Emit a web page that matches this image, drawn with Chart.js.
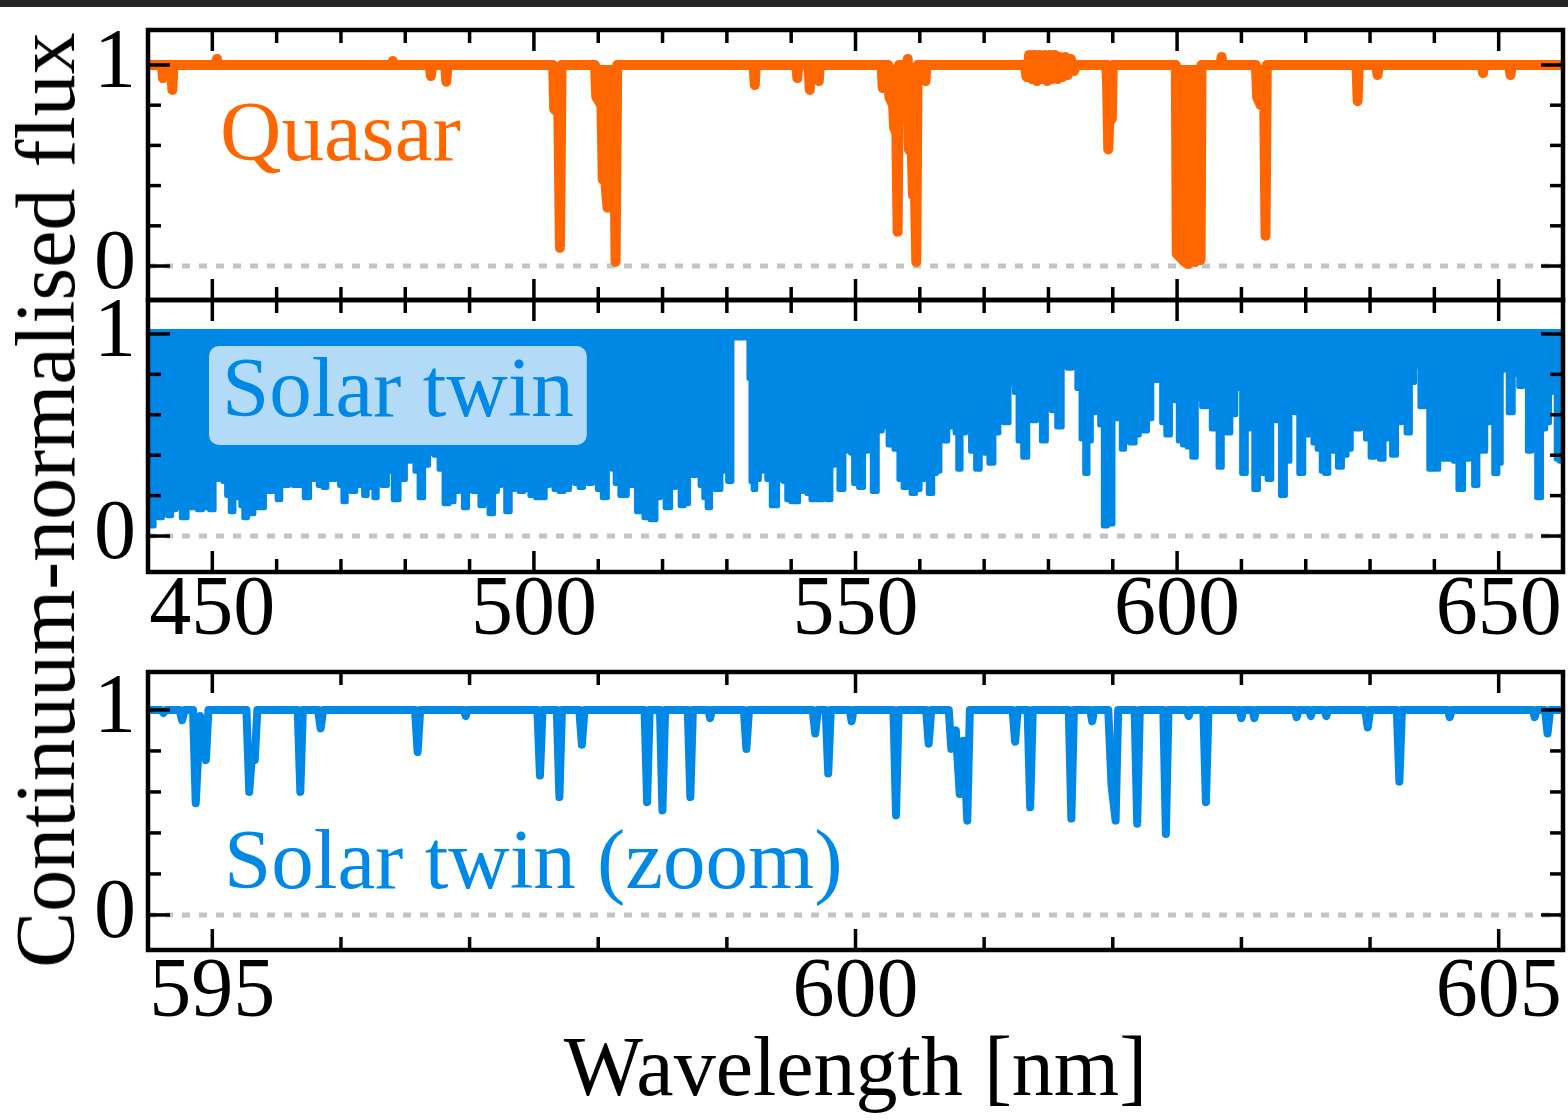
<!DOCTYPE html>
<html>
<head>
<meta charset="utf-8">
<script src="https://cdn.jsdelivr.net/npm/chart.js@4.4.1/dist/chart.umd.min.js"></script>
<style>
  html, body { margin: 0; background: #fff; }
  #page { position: relative; width: 1568px; height: 1120px; overflow: hidden; background: #fff; }
  #topbar { position: absolute; left: 0; top: 0; width: 1568px; height: 7px; background: #262626; }
  canvas { position: absolute; left: 0; }
  #ylabel {
    position: absolute; left: 46px; top: 500px;
    transform: translate(-50%, -50%) rotate(-90deg);
    font: 84px "Liberation Serif", "Times New Roman", serif;
    line-height: 1; white-space: nowrap; color: #000;
  }
</style>
</head>
<body>
<div id="page">
  <div id="topbar"></div>
  <canvas id="quasar" width="1568" height="304" style="top:0px"></canvas>
  <canvas id="twin" width="1568" height="366" style="top:296px"></canvas>
  <canvas id="zoom" width="1568" height="458" style="top:662px"></canvas>
  <div id="ylabel">Continuum-normalised flux</div>
</div>
<script>
// ---- data (wavelength in nm, continuum-normalised flux) ----

// quasar spectrum: continuum plus the absorption features
const quasarWave = [
  440.2,
  442.15, 442.33, 442.5,
  443.6, 443.79, 443.95,
  450.5, 450.72, 450.9,
  477.9, 478.08, 478.25,
  483.8, 483.98, 484.15,
  486.2, 486.38, 486.55,
  503.0, 503.15, 503.8, 504.05, 504.3,
  509.5, 509.7, 510.5, 510.7, 511.1, 511.45, 511.7, 512.45, 512.7, 512.95,
  534.15, 534.34, 534.5,
  540.8, 540.96, 541.1,
  542.7, 542.89, 543.05,
  544.1, 544.29, 544.45,
  554.05, 554.24, 554.4,
  555.1, 555.25, 555.85, 556.0, 556.35, 556.55, 556.75,
  558.0, 558.12, 558.3, 558.75, 558.95, 559.25, 559.45, 559.65,
  560.7, 560.87, 561.05,
  576.3, 576.6, 577.0, 577.4, 577.8, 578.2, 578.6, 579.0, 579.4, 579.8, 580.2,
  580.6, 581.0, 581.4, 581.8, 582.2, 582.6, 583.0, 583.5, 584.0, 584.3,
  588.95, 589.1, 589.3, 589.45, 589.85, 590.0,
  599.8, 599.95, 600.6, 601.2, 601.7, 602.3, 602.8, 603.3, 603.65, 603.8,
  606.75, 606.92, 607.1,
  612.25, 612.45, 613.0, 613.55, 613.75, 613.95,
  627.9, 628.07, 628.25,
  631.0, 631.17, 631.35,
  647.4, 647.57, 647.75,
  651.65, 651.84, 652.0,
  659.8
];
const quasarFlux = [
  1.0,
  1.0, 0.935, 1.0,
  1.0, 0.876, 1.0,
  1.0, 1.03, 1.0,
  1.0, 1.02, 1.0,
  1.0, 0.945, 1.0,
  1.0, 0.917, 1.0,
  1.0, 0.78, 0.76, 0.09, 1.0,
  1.0, 0.84, 0.80, 0.43, 0.42, 0.29, 0.82, 0.84, 0.02, 1.0,
  1.0, 0.90, 1.0,
  1.0, 0.935, 1.0,
  1.0, 0.876, 1.0,
  1.0, 0.92, 1.0,
  1.0, 0.885, 1.0,
  1.0, 0.84, 0.80, 0.69, 0.66, 0.17, 1.0,
  1.0, 1.03, 0.58, 0.56, 0.35, 0.37, 0.02, 1.0,
  1.0, 0.92, 1.0,
  1.0, 0.94, 1.05, 0.93, 1.05, 0.92, 1.05, 0.93, 1.05, 0.92, 1.05,
  0.93, 1.05, 0.93, 1.04, 0.94, 1.04, 0.95, 1.03, 0.97, 1.0,
  1.0, 0.93, 0.58, 0.72, 0.73, 1.0,
  1.0, 0.06, 0.04, 0.02, 0.01, 0.05, 0.02, 0.04, 0.03, 1.0,
  1.0, 1.04, 1.0,
  1.0, 0.84, 0.80, 0.79, 0.15, 1.0,
  1.0, 0.82, 1.0,
  1.0, 0.95, 1.0,
  1.0, 0.96, 1.0,
  1.0, 0.95, 1.0,
  1.0
];

// solar twin: lower edge of the dense line forest (the band above it is solid)
const twinWave = [
  440.15, 440.57, 441.34, 441.86, 442.64, 443.42, 443.93, 444.71, 445.64, 446.52,
  447.30, 448.08, 448.86, 449.22, 449.89, 450.67, 451.34, 451.96, 452.48, 453.10,
  453.62, 454.30, 454.55, 455.23, 455.70, 456.21, 456.73, 457.40, 457.92, 458.29,
  459.11, 459.74, 460.41, 460.88, 461.55, 462.22, 462.95, 463.78, 464.81, 465.44,
  466.06, 466.89, 467.51, 468.13, 468.80, 469.48, 470.10, 470.51, 471.13, 471.91,
  472.69, 473.21, 473.83, 474.35, 474.86, 475.38, 475.90, 476.84, 477.61, 478.65,
  479.43, 480.62, 481.24, 481.76, 482.54, 483.16, 484.09, 484.87, 485.64, 486.42,
  487.20, 487.98, 488.75, 489.32, 490.05, 490.83, 491.34, 491.86, 492.64, 493.42,
  494.04, 494.61, 495.23, 496.01, 496.63, 497.30, 498.08, 498.86, 499.89, 500.67,
  501.45, 502.07, 502.74, 503.52, 504.30, 505.07, 506.01, 506.63, 507.41, 508.03,
  508.70, 509.48, 510.25, 511.03, 511.81, 512.43, 512.84, 513.88, 515.17, 516.72,
  517.50, 518.64, 519.32, 519.94, 520.87, 521.65, 522.42, 523.05, 523.72, 524.34,
  525.01, 525.53, 526.15, 526.67, 527.19, 527.76, 528.49, 529.68, 530.56, 531.02,
  533.30, 533.56, 533.93, 534.24, 534.75, 535.38, 535.89, 536.52, 537.29, 538.49,
  539.00, 539.62, 540.30, 540.82, 541.49, 542.11, 542.73, 543.41, 544.55, 545.22,
  545.84, 546.52, 547.03, 547.81, 548.59, 549.11, 549.37, 550.04, 550.92, 551.60,
  552.22, 553.00, 553.77, 554.55, 555.59, 556.36, 557.14, 557.66, 558.33, 558.95,
  559.73, 560.35, 560.92, 561.70, 562.32, 562.84, 563.41, 564.03, 564.65, 565.27,
  565.69, 566.10, 566.73, 567.50, 568.28, 569.06, 569.73, 570.35, 571.13, 571.91,
  572.68, 573.36, 574.39, 575.02, 575.53, 576.47, 577.09, 577.71, 578.54, 579.26,
  580.09, 580.82, 581.75, 582.53, 583.30, 584.08, 584.75, 585.38, 585.89, 586.41,
  586.93, 587.70, 588.22, 588.84, 589.52, 590.55, 591.07, 591.59, 592.11, 593.14,
  593.82, 594.44, 595.06, 595.73, 596.41, 597.29, 597.91, 598.58, 599.36, 599.88,
  600.50, 601.17, 601.95, 602.62, 603.35, 604.28, 605.06, 605.58, 606.09, 606.66,
  607.39, 608.01, 608.69, 609.57, 610.50, 611.02, 611.54, 612.31, 612.99, 613.61,
  614.38, 615.06, 615.68, 616.46, 617.23, 617.86, 618.53, 619.31, 620.08, 620.86,
  621.38, 622.16, 622.67, 623.20, 623.97, 624.49, 625.37, 626.05, 626.82, 627.34,
  628.12, 628.90, 629.67, 630.35, 631.07, 631.85, 632.52, 633.04, 633.66, 634.59,
  635.22, 635.99, 636.56, 637.29, 638.22, 638.74, 639.52, 640.29, 641.07, 641.85,
  642.62, 643.30, 644.02, 645.06, 645.79, 646.41, 647.13, 647.65, 648.32, 648.84,
  649.62, 650.14, 650.66, 651.17, 651.80, 652.73, 653.51, 654.13, 654.80, 655.47,
  656.35, 656.98, 657.65, 658.17, 658.69, 659.20, 659.70
];
const twinFlux = [
  0.06, 0.05, 0.12, 0.09, 0.11, 0.10, 0.13, 0.14, 0.09, 0.14,
  0.14, 0.13, 0.14, 0.19, 0.13, 0.28, 0.32, 0.27, 0.20, 0.12,
  0.19, 0.27, 0.15, 0.09, 0.14, 0.11, 0.19, 0.14, 0.14, 0.24,
  0.22, 0.23, 0.18, 0.25, 0.25, 0.26, 0.25, 0.25, 0.19, 0.28,
  0.28, 0.25, 0.24, 0.28, 0.28, 0.29, 0.25, 0.17, 0.25, 0.22,
  0.25, 0.25, 0.20, 0.32, 0.24, 0.19, 0.28, 0.25, 0.32, 0.18,
  0.28, 0.37, 0.41, 0.32, 0.19, 0.35, 0.41, 0.40, 0.33, 0.16,
  0.17, 0.22, 0.36, 0.14, 0.32, 0.22, 0.33, 0.15, 0.22, 0.11,
  0.22, 0.25, 0.38, 0.12, 0.23, 0.34, 0.22, 0.23, 0.20, 0.19,
  0.19, 0.25, 0.30, 0.23, 0.22, 0.23, 0.40, 0.26, 0.24, 0.30,
  0.26, 0.35, 0.23, 0.19, 0.42, 0.33, 0.26, 0.20, 0.25, 0.12,
  0.09, 0.08, 0.19, 0.23, 0.14, 0.24, 0.30, 0.15, 0.16, 0.35,
  0.30, 0.31, 0.25, 0.19, 0.14, 0.29, 0.23, 0.32, 0.27, 0.98,
  0.98, 0.78, 0.27, 0.23, 0.28, 0.32, 0.47, 0.28, 0.15, 0.28,
  0.27, 0.18, 0.17, 0.17, 0.22, 0.24, 0.21, 0.18, 0.18, 0.19,
  0.18, 0.35, 0.43, 0.23, 0.53, 0.42, 0.41, 0.26, 0.24, 0.42,
  0.64, 0.22, 0.52, 0.54, 0.45, 0.43, 0.28, 0.24, 0.35, 0.21,
  0.23, 0.28, 0.29, 0.21, 0.31, 0.32, 0.52, 0.47, 0.54, 0.68,
  0.51, 0.33, 0.51, 0.63, 0.42, 0.33, 0.64, 0.41, 0.36, 0.51,
  0.71, 0.56, 0.75, 0.71, 0.47, 0.39, 0.68, 0.57, 0.61, 0.47,
  0.70, 0.62, 0.54, 0.93, 0.83, 0.85, 0.73, 0.48, 0.31, 0.47,
  0.61, 0.82, 0.55, 0.05, 0.06, 0.58, 0.59, 0.43, 0.59, 0.46,
  0.50, 0.80, 0.52, 0.58, 0.77, 0.77, 0.56, 0.50, 0.78, 0.67,
  0.47, 0.45, 0.44, 0.39, 0.68, 0.64, 0.91, 0.53, 0.80, 0.34,
  0.90, 0.51, 0.60, 0.73, 0.31, 0.53, 0.65, 0.23, 0.63, 0.31,
  0.28, 0.63, 0.57, 0.20, 0.37, 0.65, 0.61, 0.31, 0.50, 0.85,
  0.46, 0.43, 0.32, 0.31, 0.61, 0.42, 0.34, 0.40, 0.43, 0.61,
  0.53, 0.61, 0.48, 0.39, 0.77, 0.38, 0.48, 0.70, 0.40, 0.56,
  0.78, 0.51, 0.76, 0.84, 0.64, 0.84, 0.33, 0.33, 0.38, 0.38,
  0.38, 0.37, 0.23, 0.38, 0.59, 0.25, 0.42, 0.42, 0.56, 0.75,
  0.31, 0.36, 0.82, 0.91, 0.61, 0.80, 0.74, 0.76, 0.42, 0.75,
  0.19, 0.53, 0.56, 0.85, 0.71, 0.38, 0.37
];
const TWIN_TOP = 1.025; // upper edge of the solid band

// solar twin, 594.5-605.5 nm zoom
const zoomWave = [
  594.52,
  594.60, 594.62, 594.64,
  594.745, 594.765, 594.785,
  594.85, 594.871, 594.905, 594.95, 594.97,
  595.265, 595.287, 595.305, 595.33, 595.35,
  595.664, 595.684, 595.704,
  595.822, 595.842, 595.862,
  596.576, 596.596, 596.616,
  596.955, 596.97, 596.985,
  597.527, 597.547, 597.567,
  597.678, 597.698, 597.718,
  597.853, 597.873, 597.893,
  598.36, 598.38, 598.40,
  598.48, 598.499, 598.52,
  598.696, 598.716, 598.736,
  598.855, 598.87, 598.885,
  599.132, 599.152, 599.172,
  599.667, 599.687, 599.707,
  599.768, 599.788, 599.808,
  599.955, 599.97, 599.985,
  600.295, 600.315, 600.335,
  600.549, 600.569, 600.589,
  600.725, 600.745, 600.78, 600.81, 600.84, 600.869, 600.889,
  601.221, 601.241, 601.261,
  601.338, 601.358, 601.378,
  601.658, 601.678, 601.698,
  601.825, 601.84, 601.855,
  601.965, 601.99, 602.022, 602.042,
  602.17, 602.19, 602.21,
  602.393, 602.413, 602.433,
  602.575, 602.59, 602.605,
  602.704, 602.724, 602.744,
  602.985, 603.0, 603.015,
  603.085, 603.10, 603.115,
  603.415, 603.43, 603.445,
  603.525, 603.54, 603.555,
  603.645, 603.66, 603.675,
  603.962, 603.982, 604.002,
  604.208, 604.228, 604.248,
  604.605, 604.62, 604.635,
  605.265, 605.28, 605.295,
  605.36, 605.38, 605.40,
  605.47
];
const zoomFlux = [
  1.0,
  1.0, 0.985, 1.0,
  1.0, 0.95, 1.0,
  1.0, 0.545, 0.97, 0.755, 1.0,
  1.0, 0.60, 0.755, 0.755, 1.0,
  1.0, 0.60, 1.0,
  1.0, 0.91, 1.0,
  1.0, 0.795, 1.0,
  1.0, 0.97, 1.0,
  1.0, 0.68, 1.0,
  1.0, 0.575, 1.0,
  1.0, 0.83, 1.0,
  1.0, 0.55, 1.0,
  1.0, 0.51, 1.0,
  1.0, 0.575, 1.0,
  1.0, 0.96, 1.0,
  1.0, 0.81, 1.0,
  1.0, 0.885, 1.0,
  1.0, 0.69, 1.0,
  1.0, 0.945, 1.0,
  1.0, 0.485, 1.0,
  1.0, 0.835, 1.0,
  1.0, 0.81, 0.90, 0.59, 0.85, 0.46, 1.0,
  1.0, 0.845, 1.0,
  1.0, 0.525, 1.0,
  1.0, 0.47, 1.0,
  1.0, 0.945, 1.0,
  1.0, 0.635, 0.46, 1.0,
  1.0, 0.445, 1.0,
  1.0, 0.395, 1.0,
  1.0, 0.97, 1.0,
  1.0, 0.55, 1.0,
  1.0, 0.96, 1.0,
  1.0, 0.96, 1.0,
  1.0, 0.965, 1.0,
  1.0, 0.97, 1.0,
  1.0, 0.97, 1.0,
  1.0, 0.915, 1.0,
  1.0, 0.65, 1.0,
  1.0, 0.965, 1.0,
  1.0, 0.965, 1.0,
  1.0, 0.885, 1.0,
  1.0
];

// axis ticks
const wideTicks = [450, 500, 550, 600, 650];
const zoomTicks = [595, 600, 605];
const fluxTicks = [0, 1];

const ORANGE = '#ff6600';
const BLUE = '#0088e6';
const GREY = '#c4c4c4';
const SERIF = '"Liberation Serif", "Times New Roman", serif';

Chart.defaults.font.family = SERIF;
Chart.defaults.color = '#000';

function points(xs, ys) {
  return xs.map((x, i) => ({ x: x, y: ys[i] }));
}

function range(a, b, step) {
  const out = [];
  for (let v = a; v <= b + 1e-9; v += step) out.push(Math.round(v * 1000) / 1000);
  return out;
}

// black frame with inward major/minor ticks on all four sides
function frameTicks(xMajor, xMinorStep) {
  return {
    id: 'frameTicks',
    afterDraw(chart) {
      const { ctx, chartArea: a } = chart;
      const xs = chart.scales.x, ys = chart.scales.y;
      ctx.save();
      ctx.strokeStyle = '#000';
      ctx.lineWidth = 3.5;
      const mark = (x0, y0, x1, y1) => {
        ctx.beginPath(); ctx.moveTo(x0, y0); ctx.lineTo(x1, y1); ctx.stroke();
      };
      range(Math.ceil(xs.min), Math.floor(xs.max), xMinorStep).forEach(v => {
        const p = xs.getPixelForValue(v);
        if (p <= a.left + 2 || p >= a.right - 2) return;
        const len = xMajor.includes(v) ? 21 : 13;
        mark(p, a.top, p, a.top + len);
        mark(p, a.bottom, p, a.bottom - len);
      });
      range(0, 1, 0.2).forEach(v => {
        const p = ys.getPixelForValue(v);
        const len = fluxTicks.includes(v) ? 22 : 13;
        mark(a.left, p, a.left + len, p);
        mark(a.right, p, a.right - len, p);
      });
      ctx.lineWidth = 4.5;
      ctx.strokeRect(a.left, a.top, a.right - a.left, a.bottom - a.top);
      ctx.restore();
    }
  };
}

// panel name, optionally on a translucent rounded box
function panelLabel(text, color, dx, dy, boxed) {
  return {
    id: 'panelLabel',
    afterDatasetsDraw(chart) {
      const { ctx, chartArea: a } = chart;
      const x = a.left + dx, y = a.top + dy;
      ctx.save();
      ctx.font = '85px ' + SERIF;
      if (boxed) {
        const w = ctx.measureText(text).width;
        ctx.fillStyle = 'rgba(255,255,255,0.7)';
        ctx.beginPath();
        ctx.roundRect(x - 13, y - 70, w + 26, 99, 10);
        ctx.fill();
      }
      ctx.fillStyle = color;
      ctx.textBaseline = 'alphabetic';
      ctx.fillText(text, x, y);
      ctx.restore();
    }
  };
}

function zeroLine(xMin, xMax) {
  return {
    data: [{ x: xMin, y: 0 }, { x: xMax, y: 0 }],
    borderColor: GREY, borderWidth: 5, borderDash: [8, 9],
    borderCapStyle: 'butt', pointRadius: 0, fill: false, order: 1
  };
}

function panelOptions(p) {
  return {
    responsive: false,
    animation: false,
    devicePixelRatio: 1,
    events: [],
    layout: { padding: { left: 0, right: 5, top: p.padTop, bottom: 0 } },
    scales: {
      x: {
        type: 'linear', min: p.xMin, max: p.xMax,
        grid: { display: false, drawTicks: false },
        border: { display: false },
        afterBuildTicks: s => { s.ticks = p.xLabels.map(v => ({ value: v })); },
        afterFit: s => {
          s.height = p.xHeight;
          s.paddingLeft = 0; s.paddingRight = 0;
        },
        ticks: {
          display: p.showX, autoSkip: false, maxRotation: 0,
          padding: p.xPad, font: { size: 84, lineHeight: 1 }, color: '#000'
        },
        title: p.xTitle
          ? { display: true, text: p.xTitle, color: '#000',
              font: { size: 84, lineHeight: 1 }, padding: { top: 0, bottom: 5 } }
          : { display: false }
      },
      y: {
        type: 'linear', min: p.yMin, max: p.yMax,
        grid: { display: false, drawTicks: false },
        border: { display: false },
        afterBuildTicks: s => { s.ticks = fluxTicks.map(v => ({ value: v })); },
        afterFit: s => {
          s.width = 148;
          s.paddingTop = 0; s.paddingBottom = 0;
        },
        ticks: { autoSkip: false, padding: 12, font: { size: 84, lineHeight: 1 }, color: '#000' }
      }
    },
    plugins: { legend: { display: false }, tooltip: { enabled: false } }
  };
}

// top: quasar
new Chart(document.getElementById('quasar'), {
  type: 'line',
  data: {
    datasets: [
      {
        data: points(quasarWave, quasarFlux),
        borderColor: ORANGE, backgroundColor: ORANGE, borderWidth: 10,
        borderJoinStyle: 'round', borderCapStyle: 'round',
        pointRadius: 0, tension: 0, fill: { value: 1 }, order: 0
      },
      zeroLine(440, 660)
    ]
  },
  options: panelOptions({
    padTop: 30, xMin: 440, xMax: 660, yMin: -0.169, yMax: 1.174,
    xLabels: wideTicks, showX: false, xHeight: 4, xPad: 0
  }),
  plugins: [panelLabel('Quasar', ORANGE, 72, 130, false), frameTicks(wideTicks, 10)]
});

// middle: solar twin, full range
new Chart(document.getElementById('twin'), {
  type: 'line',
  data: {
    datasets: [
      {
        data: points(twinWave, twinFlux),
        borderColor: BLUE, backgroundColor: BLUE, borderWidth: 5,
        borderJoinStyle: 'round', stepped: 'middle',
        pointRadius: 0, fill: { value: TWIN_TOP }, order: 0
      },
      zeroLine(440, 660)
    ]
  },
  options: panelOptions({
    padTop: 4, xMin: 440, xMax: 660, yMin: -0.178, yMax: 1.168,
    xLabels: wideTicks, showX: true, xHeight: 90, xPad: -2
  }),
  plugins: [panelLabel('Solar twin', BLUE, 74, 116, true), frameTicks(wideTicks, 10)]
});

// bottom: solar twin zoom
new Chart(document.getElementById('zoom'), {
  type: 'line',
  data: {
    datasets: [
      {
        data: points(zoomWave, zoomFlux),
        borderColor: BLUE, borderWidth: 8,
        borderJoinStyle: 'round', borderCapStyle: 'round',
        pointRadius: 0, tension: 0, fill: false, order: 0
      },
      zeroLine(594.5, 605.5)
    ]
  },
  options: panelOptions({
    padTop: 10, xMin: 594.5, xMax: 605.5, yMin: -0.171, yMax: 1.185,
    xLabels: zoomTicks, showX: true, xHeight: 170, xPad: 2,
    xTitle: 'Wavelength [nm]'
  }),
  plugins: [panelLabel('Solar twin (zoom)', BLUE, 76, 216, false), frameTicks(zoomTicks, 1)]
});
</script>
</body>
</html>
